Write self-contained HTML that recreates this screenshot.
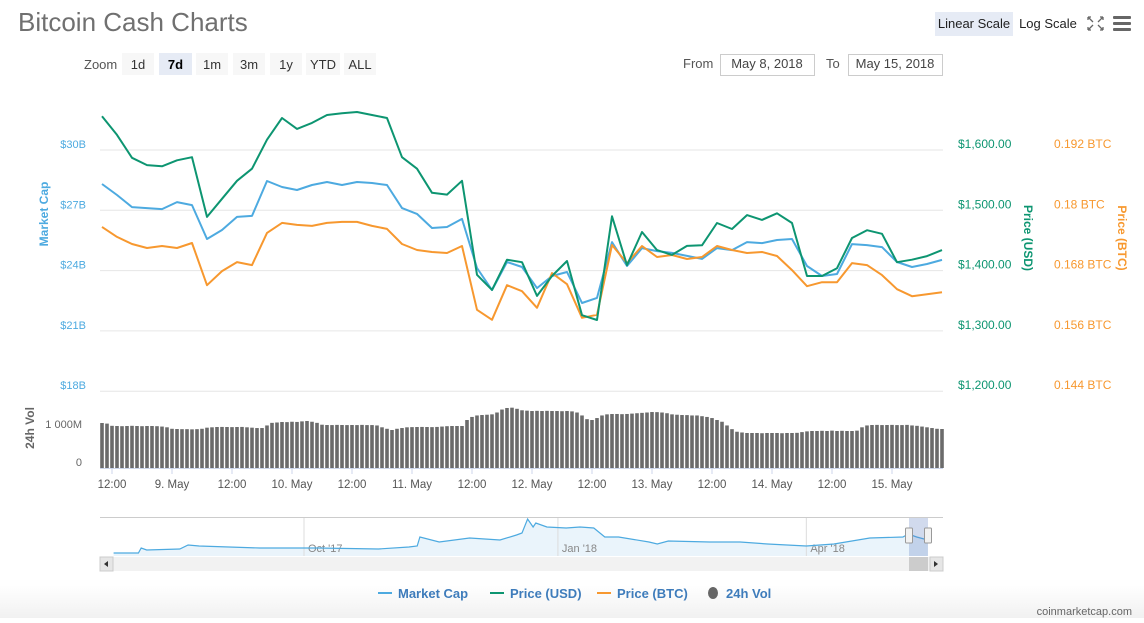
<!DOCTYPE html>
<html><head><meta charset="utf-8"><style>
html,body{margin:0;padding:0;background:#fff;}
body{width:1144px;height:618px;overflow:hidden;font-family:"Liberation Sans",sans-serif;}
svg text{font-family:"Liberation Sans",sans-serif;}
</style></head><body>
<svg id="chart" width="1144" height="618" viewBox="0 0 1144 618" xmlns="http://www.w3.org/2000/svg">
<defs>
<linearGradient id="bottomfade" x1="0" y1="0" x2="0" y2="1"><stop offset="0" stop-color="#fff"/><stop offset="1" stop-color="#f1f1f1"/></linearGradient>
</defs>
<rect x="0" y="585" width="1144" height="33" fill="url(#bottomfade)"/>
<text x="18" y="31" font-size="26" fill="#707070">Bitcoin Cash Charts</text>

<g>
<text x="84" y="69" font-size="13" fill="#555">Zoom</text>
<g><rect x="122" y="53" width="32" height="22" fill="#f7f7f7"/><text x="138" y="69" font-size="13" fill="#333" text-anchor="middle">1d</text></g>
<g><rect x="159" y="53" width="33" height="22" fill="#e6ebf5"/><text x="175.5" y="69" font-size="13" fill="#000" font-weight="bold" text-anchor="middle">7d</text></g>
<g><rect x="196" y="53" width="32" height="22" fill="#f7f7f7"/><text x="212" y="69" font-size="13" fill="#333" text-anchor="middle">1m</text></g>
<g><rect x="233" y="53" width="32" height="22" fill="#f7f7f7"/><text x="249" y="69" font-size="13" fill="#333" text-anchor="middle">3m</text></g>
<g><rect x="270" y="53" width="32" height="22" fill="#f7f7f7"/><text x="286" y="69" font-size="13" fill="#333" text-anchor="middle">1y</text></g>
<g><rect x="306" y="53" width="34" height="22" fill="#f7f7f7"/><text x="323" y="69" font-size="13" fill="#333" text-anchor="middle">YTD</text></g>
<g><rect x="344" y="53" width="32" height="22" fill="#f7f7f7"/><text x="360" y="69" font-size="13" fill="#333" text-anchor="middle">ALL</text></g>
</g>

<g>
<text x="683" y="68" font-size="13" fill="#555">From</text>
<g><rect x="720.5" y="54.5" width="94" height="21" fill="#fff" stroke="#ccc"/><text x="767" y="68" font-size="13" fill="#444" text-anchor="middle">May 8, 2018</text></g>
<text x="826" y="68" font-size="13" fill="#555">To</text>
<g><rect x="848.5" y="54.5" width="94" height="21" fill="#fff" stroke="#ccc"/><text x="895" y="68" font-size="13" fill="#444" text-anchor="middle">May 15, 2018</text></g>
</g>

<g><rect x="935" y="12" width="78" height="24" fill="#e6ebf5"/><text x="974" y="28" font-size="13" fill="#222" text-anchor="middle">Linear Scale</text></g>
<g><text x="1048" y="28" font-size="13" fill="#222" text-anchor="middle">Log Scale</text></g>
<g stroke="#666" stroke-width="1.3" fill="none">
<path d="M1088 17 L1093 22 M1088 17 h3 M1088 17 v3 M1103 17 L1098 22 M1103 17 h-3 M1103 17 v3 M1088 30 L1093 25 M1088 30 h3 M1088 30 v-3 M1103 30 L1098 25 M1103 30 h-3 M1103 30 v-3"/>
</g>
<g fill="#666"><rect x="1113" y="16" width="18" height="3" rx="1"/><rect x="1113" y="22" width="18" height="3" rx="1"/><rect x="1113" y="28" width="18" height="3" rx="1"/></g>

<g id="grid"></g>
<g id="volbars"></g>
<g id="lines"></g>
<g id="axes"></g>
<g id="nav"></g>

<g font-size="13" font-weight="bold" fill="#3e7cbb">
<g><line x1="378" y1="593" x2="392" y2="593" stroke="#4daae0" stroke-width="2"/><text x="398" y="598">Market Cap</text></g>
<g><line x1="490" y1="593" x2="504" y2="593" stroke="#0d9571" stroke-width="2"/><text x="510" y="598">Price (USD)</text></g>
<g><line x1="597" y1="593" x2="611" y2="593" stroke="#f7982f" stroke-width="2"/><text x="617" y="598">Price (BTC)</text></g>
<g><ellipse cx="713" cy="593" rx="5" ry="6" fill="#666"/><text x="726" y="598">24h Vol</text></g>
</g>
<text x="1132" y="615" font-size="11" fill="#666" text-anchor="end">coinmarketcap.com</text>
</svg>
<script>
// ---- data (hours since May 8 2018 00:00) ----
const hours = [10,13,16,19,22,25,28,31,34,37,40,43,46,49,52,55,58,61,64,67,70,73,76,79,82,85,88,91,94,97,100,103,106,109,112,115,118,121,124,127,130,133,136,139,142,145,148,151,154,157,160,163,166,169,172,175,178];
const priceUsd = [1656,1625,1587,1575,1573,1583,1588,1489,1519,1549,1569,1617,1653,1635,1645,1658,1661,1663,1658,1653,1588,1569,1529,1526,1549,1393,1368,1418,1414,1358,1391,1416,1326,1318,1490,1409,1464,1434,1426,1441,1442,1479,1469,1492,1484,1495,1479,1391,1391,1404,1454,1467,1461,1414,1418,1424,1434];
const marketCap = [28.31,27.76,27.16,27.11,27.06,27.41,27.26,25.57,26.02,26.67,26.72,28.46,28.16,28.01,28.26,28.41,28.26,28.41,28.36,28.26,27.11,26.82,26.12,26.17,26.57,24.13,23.03,24.43,24.18,23.13,23.73,23.93,22.39,22.64,25.42,24.23,25.12,24.97,24.88,24.73,24.58,25.12,25.02,25.42,25.37,25.52,25.57,24.23,23.73,23.83,25.32,25.27,25.17,24.43,24.18,24.33,24.53];
const priceBtc = [0.1767,0.1747,0.1733,0.1725,0.1729,0.1725,0.1735,0.1651,0.1679,0.1697,0.1691,0.1755,0.1775,0.1771,0.1769,0.1775,0.1777,0.1777,0.1769,0.1763,0.1733,0.1721,0.1717,0.1715,0.1729,0.1602,0.1582,0.1651,0.1639,0.1606,0.1675,0.1653,0.1586,0.1592,0.1731,0.1695,0.1729,0.1707,0.1711,0.1703,0.1707,0.1729,0.1721,0.1715,0.1717,0.1709,0.1681,0.1649,0.1657,0.1657,0.1695,0.1691,0.1671,0.1643,0.1629,0.1633,0.1637];
const volStartHour = 10;
const volume = [1216,1200,
1140,1135,1130,1135,1140,1135,1130,1135,1135,1130,1120,1100,
1060,1054,1050,1050,1045,1050,1060,
1090,1100,1108,1110,1108,1105,1108,1110,1100,1090,1080,
1080,1150,
1220,1230,1243,1240,1250,1245,1260,1270,1250,1220,
1170,1162,1160,1165,1162,1160,1162,1160,1165,1160,1160,1150,1100,
1060,1027,
1060,1080,1100,1105,1108,1110,1108,1105,1110,1120,1130,1135,1135,1135,
1297,
1380,1420,1432,1440,1450,1500,
1580,1622,1630,1600,
1560,1550,1540,1545,1540,1545,1540,1540,1535,1540,1530,1500,1420,
1320,1297,1350,1420,
1450,1459,1460,1455,1460,1470,1480,1490,1500,
1513,1510,1500,1480,
1450,1440,1432,1430,1420,1420,1400,1380,1350,
1297,1250,1150,
1050,980,960,946,946,946,940,946,946,946,940,946,946,950,
970,990,1000,1000,1005,1000,1010,1000,1005,1000,1000,1010,
1100,1150,1162,1165,1160,1162,1165,1160,1160,1165,1150,1140,
1120,1100,1080,1060,1054];
const usdTicks = [1600,1500,1400,1300,1200];
const usdTickLabels = ["$1,600.00","$1,500.00","$1,400.00","$1,300.00","$1,200.00"];
const btcTicks = [0.192,0.18,0.168,0.156,0.144];
const btcTickLabels = ["0.192 BTC","0.18 BTC","0.168 BTC","0.156 BTC","0.144 BTC"];
const capTicks = [30,27,24,21,18];
const capTickLabels = ["$30B","$27B","$24B","$21B","$18B"];
const timeTicks = [12,24,36,48,60,72,84,96,108,120,132,144,156,168];
const timeTickLabels = ["12:00","9. May","12:00","10. May","12:00","11. May","12:00","12. May","12:00","13. May","12:00","14. May","12:00","15. May"];
// navigator: days since Oct 1 2017, market cap (B)
const navDays = [-69,-60,-59,-57,-45,-42,-38,-16,5,27,38,41,42,49,60,71,77,79,81,83,84,88,95,100,105,109,114,125,128,132,147,158,168,182,192,205,217,219,222,226];
const navCap = [9.8,9.8,17.8,14.6,16.2,22.6,21,17.8,17.8,16.2,19.4,21,35.4,27.4,33.8,30.6,38.6,41.8,64.2,51.4,57.8,51.4,49.8,51.4,49.8,35.4,35.4,27.4,24.2,29,27.4,27.4,24.2,21,24.2,33.8,35.4,40.2,35.4,30.6];
const navTicks = [0,92,182];
const navTickLabels = ["Oct '17","Jan '18","Apr '18"];

// ---- scales ----
const X0=100, X1=943, H0=9.6, H1=178.2;
const xT = h => X0 + (h-H0)*(X1-X0)/(H1-H0);
const yUsd = v => 150 + (1600-v)*(60.3/100);
const yBtc = v => 150 + (0.192-v)*(60.3/0.012);
const yCap = v => 150 + (30-v)*(60.3/3);
const yVol = v => 468 - v*0.037;
const xNav = d => 304 + d*2.76;
const yNav = v => 556 - (v-5)/1.6;

const NS="http://www.w3.org/2000/svg";
function mk(tag, attrs, parent){const e=document.createElementNS(NS,tag);for(const k in attrs)e.setAttribute(k,attrs[k]);parent.appendChild(e);return e;}
const grid=document.getElementById('grid'), axes=document.getElementById('axes'), lines=document.getElementById('lines'), vb=document.getElementById('volbars'), nav=document.getElementById('nav');

usdTicks.forEach((t,i)=>{
  const y=yUsd(t);
  const g=mk('line',{x1:X0,x2:X1,y1:y,y2:y,stroke:'#e6e6e6','stroke-width':1},grid);
  
  
  const a=mk('text',{x:958,y:y-2,'font-size':12,fill:'#0d9571'},axes); a.textContent=usdTickLabels[i];
  
  
});
btcTicks.forEach((t,i)=>{
  const b=mk('text',{x:1054,y:yBtc(t)-2,'font-size':12,fill:'#f7982f'},axes); b.textContent=btcTickLabels[i];
  
  
});
capTicks.forEach((t,i)=>{
  const c=mk('text',{x:86,y:yCap(t)-2,'font-size':11,fill:'#4daae0','text-anchor':'end'},axes); c.textContent=capTickLabels[i];
  
  
});
let t1=mk('text',{x:0,y:0,'font-size':12,'font-weight':'bold',fill:'#0d9571','text-anchor':'middle',transform:'translate(1024,238) rotate(90)'},axes); t1.textContent='Price (USD)';


let t2=mk('text',{x:0,y:0,'font-size':12,'font-weight':'bold',fill:'#f7982f','text-anchor':'middle',transform:'translate(1118,238) rotate(90)'},axes); t2.textContent='Price (BTC)';


let t3=mk('text',{x:0,y:0,'font-size':12,'font-weight':'bold',fill:'#4daae0','text-anchor':'middle',transform:'translate(48,214) rotate(-90)'},axes); t3.textContent='Market Cap';


let t4=mk('text',{x:0,y:0,'font-size':12,'font-weight':'bold',fill:'#666','text-anchor':'middle',transform:'translate(34,428) rotate(-90)'},axes); t4.textContent='24h Vol';


let v1=mk('text',{x:82,y:428,'font-size':11,fill:'#666','text-anchor':'end'},axes); v1.textContent='1 000M';


let v0=mk('text',{x:82,y:466,'font-size':11,fill:'#666','text-anchor':'end'},axes); v0.textContent='0';



// volume bars
volume.forEach((v,i)=>{
  const x=xT(volStartHour+i);
  const r=mk('rect',{x:x-1.8,y:yVol(v),width:3.6,height:468-yVol(v),fill:'#6b6b6b'},vb);
  
  
});
let ax=mk('line',{x1:X0,x2:X1,y1:468.5,y2:468.5,stroke:'#ccd6eb'},axes);


timeTicks.forEach((h,i)=>{
  const x=xT(h);
  const tk=mk('line',{x1:x,x2:x,y1:468,y2:474,stroke:'#ccd6eb'},axes);
  
  
  const tl=mk('text',{x:x,y:488,'font-size':11.5,fill:'#555','text-anchor':'middle'},axes); tl.textContent=timeTickLabels[i];
  
  
});

function drawLine(vals, ys, color, name){
  const d=vals.map((v,i)=>(i?'L':'M')+xT(hours[i]).toFixed(1)+' '+ys(v).toFixed(1)).join(' ');
  const p=mk('path',{d:d,fill:'none',stroke:color,'stroke-width':2,'stroke-linejoin':'round'},lines);
  
  
}
drawLine(marketCap,yCap,'#4daae0','market-cap-line');
drawLine(priceBtc,yBtc,'#f7982f','price-btc-line');
drawLine(priceUsd,yUsd,'#0d9571','price-usd-line');

// navigator
let nb=mk('line',{x1:X0,x2:X1,y1:517.5,y2:517.5,stroke:'#ccc'},nav);


const np=navDays.map((d,i)=>(i?'L':'M')+xNav(d).toFixed(1)+' '+yNav(navCap[i]).toFixed(1)).join(' ');
let na=mk('path',{d:np+' L'+xNav(navDays[navDays.length-1]).toFixed(1)+' 556 L'+xNav(navDays[0]).toFixed(1)+' 556 Z',fill:'#eaf4fb'},nav);


navTicks.forEach((d,i)=>{
  const x=xNav(d);
  const l=mk('line',{x1:x,x2:x,y1:518,y2:556,stroke:'#dcdcdc'},nav);
  
  
  const t=mk('text',{x:x+4,y:552,'font-size':11,fill:'#888'},nav); t.textContent=navTickLabels[i];
  
  
});
let nl=mk('path',{d:np,fill:'none',stroke:'#4daae0','stroke-width':1.2},nav);


let mask=mk('rect',{x:909,y:518,width:19,height:38,fill:'rgba(102,133,194,0.3)'},nav);


[909,928].forEach(x=>{
  const h=mk('rect',{x:x-3.5,y:528,width:7,height:15,fill:'#f2f2f2',stroke:'#999',rx:1},nav);
  
  
});
let sb=mk('rect',{x:X0,y:557,width:X1-X0,height:14,fill:'#f2f2f2'},nav);


let sth=mk('rect',{x:909,y:557,width:19,height:14,fill:'#ccc'},nav);


let bl=mk('rect',{x:X0,y:557,width:13,height:14,fill:'#e6e6e6',stroke:'#ccc'},nav);


let al=mk('path',{d:'M108 561 L104 564 L108 567 Z',fill:'#333'},nav);


let br=mk('rect',{x:X1-13,y:557,width:13,height:14,fill:'#e6e6e6',stroke:'#ccc'},nav);


let ar=mk('path',{d:'M934 561 L938 564 L934 567 Z',fill:'#333'},nav);


</script>
</body></html>
